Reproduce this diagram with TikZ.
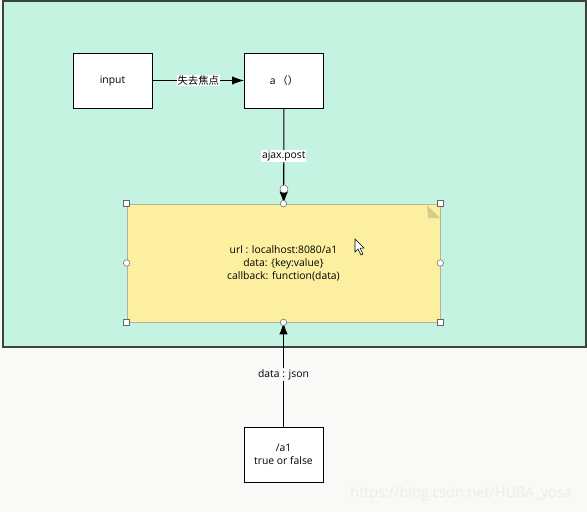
\documentclass[tikz,border=0pt]{standalone}
\usepackage{fontspec}
\setmainfont{Open Sans}
\newfontfamily\cjk{Noto Sans CJK SC}
\usepackage{tikz}
\usetikzlibrary{arrows.meta}

\definecolor{paper}{HTML}{F9F9F7}
\definecolor{mint}{HTML}{C4F3E1}
\definecolor{frame}{HTML}{3C4440}
\definecolor{notefill}{HTML}{FCF0A0}
\definecolor{noteline}{HTML}{B4B49C}
\definecolor{fold}{HTML}{D6CB8C}
\definecolor{mark}{HTML}{ECECEA}

\begin{document}
\begin{tikzpicture}[x=0.02cm,y=-0.02cm,
        every node/.style={font=\fontsize{5.9}{7.4}\selectfont},
        box/.style={draw,fill=white,line width=0.5pt,minimum width=1.58cm,minimum height=1.1cm,align=center},
        note/.style={draw=noteline,fill=notefill,line width=0.4pt,minimum width=6.26cm,minimum height=2.36cm,align=center},
        conn/.style={line width=0.6pt,-{Latex[length=0.24cm,width=0.17cm]}},
        lbl/.style={fill=white,inner sep=0.5pt},
        handle/.style={draw=gray!80!black,fill=white,line width=0.3pt}]
    % background and panel
    \fill[paper] (0,0) rectangle (587,512);
    \fill[mint] (3,1) rectangle (586,347);
    \draw[frame,line width=0.8pt] (3,1) rectangle (586,347);

    \node[box] (input) at (112.5,80.5) {input};
    \node[box] (fn) at (284,80.5) {a\,{\cjk （）}};
    \node[note] (req) at (283.5,263) {url : localhost:8080/a1\\data: \{key:value\}\\callback: function(data)};
    \fill[fold] (427,205) -- (440,218) -- (428,218) -- cycle;
    \node[box] (url) at (283.5,454.5) {/a1\\true or false};

    \draw[conn] (input) -- node[lbl]{\cjk 失去焦点} (fn);
    \draw[conn] (fn) -- node[lbl]{ajax.post} (req);
    \draw[conn] (url) -- node[fill=paper,inner sep=0.5pt]{data : json} (req);

    % selection handles
    \foreach \a in {north west,north east,south west,south east}{
        \draw[handle] ([xshift=-0.06cm,yshift=-0.06cm]req.\a) rectangle ++(0.12cm,0.12cm);
    }
    \foreach \a in {north,south,west,east}{
        \draw[handle] (req.\a) circle (0.065cm);
    }
    \draw[handle] (284,189) circle (0.08cm);

    % cursor
    \draw[fill=white,line width=0.3pt] (355,239) -- (355,252) -- (358,249) -- (361,255) -- (363,254) -- (360,248) -- (364,248) -- cycle;

    \node[text=mark,font=\fontsize{8.2}{10}\selectfont] (wm) at (461,494) {https://blog.csdn.net/HUBA\_yosa};
\end{tikzpicture}
\end{document}
